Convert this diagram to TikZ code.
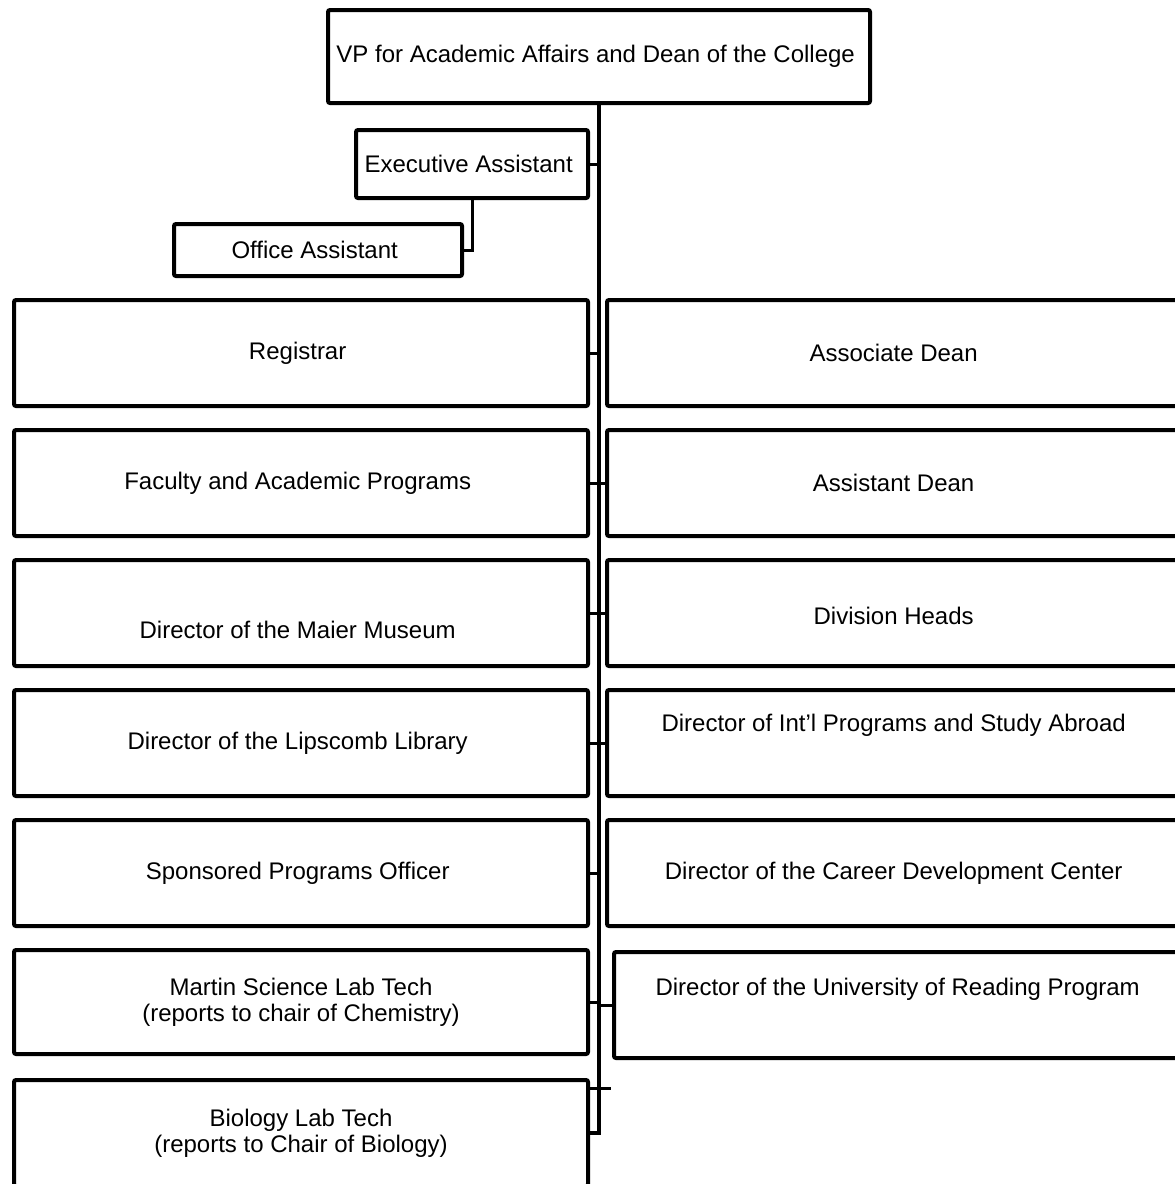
\documentclass[tikz,border=0pt]{standalone}
\usepackage{fontspec}
\setmainfont{Liberation Sans}
\begin{document}
\begin{tikzpicture}[x = 1pt, y = -1pt,
  every node/.append style={font = \fontsize{24}{26}\selectfont, align = center, inner sep = 0pt},
  post/.style={draw, line width = 4pt, rounded corners = 2pt, minimum width = 574pt, minimum height = 106pt},
  link/.style={line width = 3pt},
  spine/.style={line width = 4.5pt}]

  \useasboundingbox (0, 0) rectangle (1175, 1184);

  \node [post, minimum width = 542pt, minimum height = 93pt] (vp) at (599, 56.5) { VP for Academic Affairs and Dean of the College };
  \node [post, minimum width = 232pt, minimum height = 68pt] (exec) at (472, 164) { Executive Assistant };
  \node [post, minimum width = 288pt, minimum height = 52pt] (office) at (318, 250) { Office Assistant };

  % left column
  \node [post] (reg)       at (301,  353) { Registrar };
  \node [post] (faculty)   at (301,  483) { Faculty and Academic Programs };
  \node [post] (maier)     at (301,  613) {};
  \node        (maiertext) at (301,  630) { Director of the Maier Museum };
  \node [post] (lipscomb)  at (301,  743) { Director of the Lipscomb Library };
  \node [post] (sponsored) at (301,  873) { Sponsored Programs Officer };
  \node [post, minimum height = 104pt] (martin) at (301, 1002) { Martin Science Lab Tech\\(reports to chair of Chemistry) };
  \node [post] (bio)       at (301, 1133) { Biology Lab Tech\\(reports to Chair of Biology) };

  % right column
  \node [post, minimum width = 580pt] (assoc)    at (897, 353) { Associate Dean };
  \node [post, minimum width = 580pt] (asst)     at (897, 483) { Assistant Dean };
  \node [post, minimum width = 580pt] (division) at (897, 613) {};
  \node                               (divtext)  at (897, 616) { Division Heads };
  \node [post, minimum width = 580pt] (intl)     at (897, 743) {};
  \node                               (intltext) at (897, 725) { Director of Int'l Programs and Study Abroad };
  \node [post, minimum width = 580pt] (career)   at (897, 873) { Director of the Career Development Center };
  \node [post, minimum width = 574pt] (reading)  at (901, 1005) {};
  \node                               (readtext) at (901,  989) { Director of the University of Reading Program };

  \draw [spine] (vp.south) |- (bio.east);

  \draw [link] (exec.east) -- (exec.east -| vp.south);
  \draw [link] (exec.south) |- (office.east);

  \foreach \n in {reg, faculty, maier, lipscomb, sponsored, martin}
    \draw [link] (\n.east) -- (\n.east -| vp.south);
  \foreach \n in {asst, division, intl, reading}
    \draw [link] (\n.west) -- (\n.west -| vp.south);

  \coordinate (stub) at (611, 1088);
  \draw [link] (bio.east |- stub) -- (stub);

\end{tikzpicture}
\end{document}
